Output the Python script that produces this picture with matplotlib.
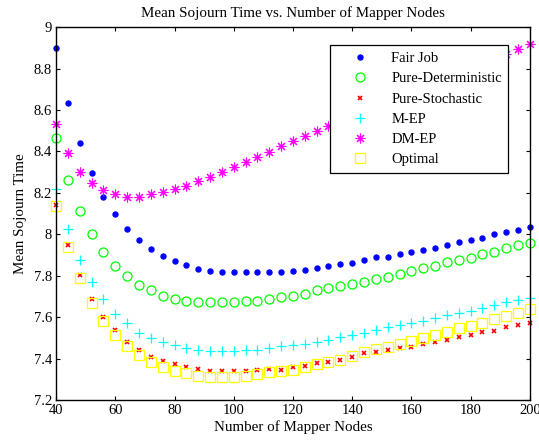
import matplotlib
matplotlib.use("Agg")
import matplotlib.pyplot as plt
from matplotlib.ticker import FuncFormatter
import numpy as np

plt.rcParams['font.family'] = ['Liberation Serif', 'DejaVu Serif']

# Data (x = number of mapper nodes, step 4).
mapper_nodes = list(range(40, 201, 4))

fair_job = [8.90, 8.633, 8.44, 8.296, 8.18, 8.098, 8.025, 7.972, 7.929, 7.895,
            7.871, 7.852, 7.832, 7.823, 7.818, 7.817, 7.817, 7.817, 7.818, 7.818,
            7.823, 7.83, 7.837, 7.847, 7.857, 7.861, 7.876, 7.89, 7.892, 7.905,
            7.914, 7.924, 7.935, 7.947, 7.961, 7.972, 7.981, 8.0, 8.01, 8.02, 8.036]

pure_deterministic = [8.464, 8.262, 8.112, 8.001, 7.916, 7.848, 7.798, 7.755, 7.731, 7.703,
                      7.69, 7.68, 7.674, 7.673, 7.671, 7.673, 7.676, 7.68, 7.69, 7.696,
                      7.703, 7.714, 7.731, 7.739, 7.75, 7.759, 7.769, 7.783, 7.794, 7.81,
                      7.823, 7.836, 7.846, 7.865, 7.878, 7.888, 7.907, 7.916, 7.932, 7.948, 7.959]

pure_stochastic = [8.14, 7.948, 7.803, 7.687, 7.602, 7.538, 7.481, 7.441, 7.409, 7.388,
                   7.374, 7.361, 7.349, 7.341, 7.341, 7.341, 7.34, 7.345, 7.349, 7.347,
                   7.361, 7.364, 7.377, 7.382, 7.393, 7.409, 7.425, 7.433, 7.441, 7.449,
                   7.457, 7.47, 7.478, 7.49, 7.506, 7.514, 7.527, 7.535, 7.551, 7.562, 7.573]

m_ep = [8.218, 8.025, 7.876, 7.768, 7.686, 7.614, 7.57, 7.525, 7.501, 7.478,
        7.464, 7.45, 7.441, 7.436, 7.436, 7.436, 7.441, 7.444, 7.452, 7.461,
        7.467, 7.472, 7.479, 7.49, 7.503, 7.515, 7.526, 7.538, 7.553, 7.563,
        7.574, 7.582, 7.597, 7.612, 7.62, 7.631, 7.644, 7.66, 7.671, 7.684, 7.695]

# points between 136 and 192 sit behind the legend; estimated
dm_ep = [8.531, 8.391, 8.302, 8.246, 8.214, 8.194, 8.181, 8.181, 8.196, 8.204,
         8.218, 8.234, 8.256, 8.278, 8.299, 8.326, 8.347, 8.371, 8.398, 8.426,
         8.451, 8.474, 8.498, 8.524, 8.548, 8.571, 8.594, 8.617, 8.64, 8.663,
         8.686, 8.709, 8.732, 8.755, 8.778, 8.801, 8.824, 8.847, 8.871, 8.895, 8.918]

optimal = [8.138, 7.94, 7.787, 7.67, 7.581, 7.514, 7.461, 7.417, 7.385, 7.361,
           7.34, 7.329, 7.317, 7.312, 7.312, 7.312, 7.317, 7.325, 7.336, 7.339,
           7.345, 7.361, 7.372, 7.382, 7.393, 7.412, 7.43, 7.446, 7.457, 7.47,
           7.485, 7.498, 7.514, 7.527, 7.546, 7.559, 7.573, 7.591, 7.607, 7.621, 7.638]

fig = plt.figure(figsize=(5.39, 4.45), dpi=100)
ax = fig.add_axes([0.104, 0.101, 0.879, 0.838])

ax.plot(mapper_nodes, fair_job, linestyle='none', marker='o', markersize=3.6,
        color='#0000ff', label='Fair Job', clip_on=False)
ax.plot(mapper_nodes, pure_deterministic, linestyle='none', marker='o', markersize=6.5,
        markerfacecolor='none', markeredgecolor='#00ff00', markeredgewidth=0.9,
        label='Pure-Deterministic', clip_on=False)
ax.plot(mapper_nodes, pure_stochastic, linestyle='none', marker='x', markersize=3.2,
        markeredgewidth=1.2, color='#ff0000', label='Pure-Stochastic', clip_on=False)
ax.plot(mapper_nodes, m_ep, linestyle='none', marker='+', markersize=7,
        markeredgewidth=0.9, color='#00ffff', label='M-EP', clip_on=False)
ax.plot(mapper_nodes, dm_ep, linestyle='none', marker=(8, 2, 0), markersize=7,
        markeredgewidth=0.8, color='#ff00ff', label='DM-EP', clip_on=False)
ax.plot(mapper_nodes, optimal, linestyle='none', marker='s', markersize=6.5,
        markerfacecolor='none', markeredgecolor='#ffff00', markeredgewidth=0.9,
        label='Optimal', clip_on=False)

ax.set_xlim(40, 200)
ax.set_ylim(7.2, 9)
ax.set_xticks(np.arange(40, 201, 20))
ax.set_yticks(np.arange(7.2, 9.01, 0.2))
ax.yaxis.set_major_formatter(FuncFormatter(lambda v, p: '%g' % round(v, 1)))
ax.tick_params(direction='in', top=True, right=True, length=3, width=0.8,
               labelsize=10.5, pad=3)
for s in ax.spines.values():
    s.set_linewidth(1.0)
    s.set_zorder(3)

ax.set_title('Mean Sojourn Time vs. Number of Mapper Nodes', fontsize=10.8, pad=7)
ax.set_xlabel('Number of Mapper Nodes', fontsize=10.8, labelpad=2)
ax.set_ylabel('Mean Sojourn Time', fontsize=10.8, labelpad=5)

leg = ax.legend(loc='upper left', bbox_to_anchor=(0.578, 0.951), fontsize=10.5,
                frameon=True, fancybox=False, edgecolor='black', framealpha=1,
                borderpad=0.45, labelspacing=0.48, handlelength=3.2,
                handletextpad=0.55, borderaxespad=0)
leg.get_frame().set_linewidth(0.9)
leg.set_zorder(5)

fig.savefig('out.png', dpi=100)
